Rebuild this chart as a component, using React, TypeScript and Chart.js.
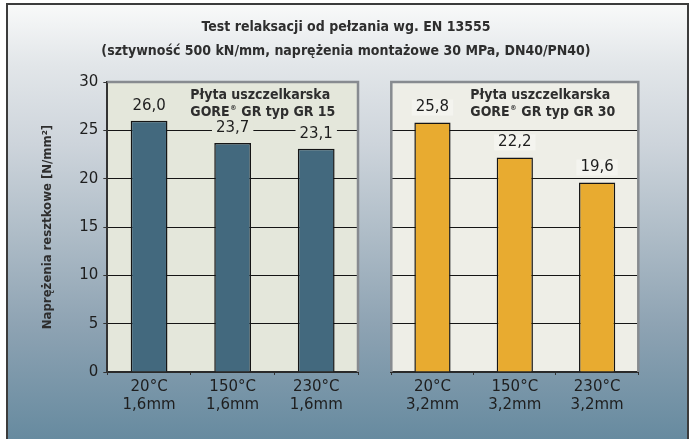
import React, { useEffect, useRef } from 'react';
import { Chart, registerables } from 'chart.js';

Chart.register(...registerables);

const TITLE_LINES = [
  'Test relaksacji od pełzania wg. EN 13555',
  '(sztywność 500 kN/mm, naprężenia montażowe 30 MPa, DN40/PN40)',
];
const Y_TITLE = 'Naprężenia resztkowe [N/mm²]';
const Y_MIN = 0;
const Y_MAX = 30;
const Y_STEP = 5;

const CATEGORIES_A = [['20°C', '1,6mm'], ['150°C', '1,6mm'], ['230°C', '1,6mm']];
const VALUES_A = [26.0, 23.7, 23.1];
const NOTE_A = ['Płyta uszczelkarska', 'GORE® GR typ GR 15'];

const CATEGORIES_B = [['20°C', '3,2mm'], ['150°C', '3,2mm'], ['230°C', '3,2mm']];
const VALUES_B = [25.8, 22.2, 19.6];
const NOTE_B = ['Płyta uszczelkarska', 'GORE® GR typ GR 30'];

const W = 692;
const H = 439;
const COND = "'Liberation Sans Narrow', 'DejaVu Sans Condensed', sans-serif";
const PLAIN = "'DejaVu Sans', sans-serif";

const fmt = (v: number) => v.toFixed(1).replace('.', ',');

const panelPlugin = {
  id: 'panel',
  beforeDraw(chart: any, _a: any, opts: any) {
    const { ctx, chartArea: ca } = chart;
    ctx.save();
    ctx.fillStyle = opts.bg;
    ctx.fillRect(ca.left, ca.top, ca.right - ca.left, ca.bottom - ca.top);
    ctx.restore();
  },
  afterDatasetsDraw(chart: any, _a: any, opts: any) {
    const { ctx, chartArea: ca } = chart;
    const meta = chart.getDatasetMeta(0);
    const data = chart.data.datasets[0].data;
    ctx.save();
    ctx.font = `15px ${PLAIN}`;
    ctx.textAlign = 'center';
    ctx.textBaseline = 'middle';
    meta.data.forEach((el: any, i: number) => {
      const t = fmt(data[i]);
      const w = ctx.measureText(t).width;
      const cy = el.y - 15;
      ctx.fillStyle = opts.labelBg;
      ctx.fillRect(el.x - w / 2 - 4, cy - 8, w + 8, 16);
      ctx.fillStyle = '#1e1e1e';
      ctx.fillText(t, el.x, cy);
    });
    // panel note
    const x0 = ca.left + opts.noteDx;
    ctx.textAlign = 'left';
    ctx.textBaseline = 'alphabetic';
    ctx.fillStyle = '#2e2e2e';
    const f = `bold 14px ${COND}`;
    const fs = `bold 7px ${COND}`;
    opts.note.forEach((line: string, li: number) => {
      const y = ca.top + 17 + li * 16.5;
      const parts = line.split('®');
      let x = x0;
      parts.forEach((p: string, pi: number) => {
        ctx.font = f;
        ctx.fillText(p, x, y);
        x += ctx.measureText(p).width;
        if (pi < parts.length - 1) {
          ctx.font = fs;
          ctx.fillText('®', x + 0.5, y - 6);
          x += ctx.measureText('®').width + 1;
        }
      });
    });
    ctx.restore();
  },
  afterDraw(chart: any, _a: any, opts: any) {
    const { ctx, chartArea: ca } = chart;
    ctx.save();
    ctx.strokeStyle = '#878b90';
    ctx.lineWidth = 2.5;
    ctx.beginPath();
    if (opts.leftBorder) {
      ctx.moveTo(ca.left, ca.bottom);
      ctx.lineTo(ca.left, ca.top);
    } else {
      ctx.moveTo(ca.left, ca.top);
    }
    ctx.lineTo(ca.right, ca.top);
    ctx.lineTo(ca.right, ca.bottom);
    ctx.stroke();
    if (opts.title) {
      ctx.fillStyle = '#2e2e2e';
      ctx.textAlign = 'center';
      ctx.textBaseline = 'middle';
      ctx.font = `bold 14px ${COND}`;
      TITLE_LINES.forEach((t, i) => ctx.fillText(t, chart.width / 2, 27 + i * 24));
    }
    ctx.restore();
  },
};

function makeConfig(
  labels: string[][],
  values: number[],
  color: string,
  note: string[],
  withAxis: boolean,
  padLeft: number,
  padRight: number,
  bg: string,
  labelBg: string,
): any {
  const tickFont = { family: PLAIN, size: 15 };
  return {
    type: 'bar',
    data: {
      labels,
      datasets: [
        {
          data: values,
          backgroundColor: color,
          borderColor: '#151515',
          borderWidth: 1.5,
          barPercentage: 0.44,
          categoryPercentage: 1,
        },
      ],
    },
    plugins: [panelPlugin],
    options: {
      responsive: false,
      animation: false,
      devicePixelRatio: 1,
      layout: { padding: { left: padLeft, right: padRight, top: 82, bottom: 0 } },
      plugins: {
        legend: { display: false },
        tooltip: { enabled: false },
        title: { display: false },
        panel: { bg, labelBg, note, noteDx: withAxis ? 83 : 79, leftBorder: !withAxis, title: withAxis },
      },
      scales: {
        x: {
          offset: true,
          grid: {
            display: true,
            drawOnChartArea: false,
            drawTicks: true,
            tickLength: 3,
            tickColor: '#333',
            offset: true,
          },
          border: { display: true, color: '#2a2a2a', width: 2 },
          ticks: { font: tickFont, color: '#1e1e1e', padding: 3, maxRotation: 0, autoSkip: false },
          afterFit: (s: any) => {
            s.height = 67;
          },
        },
        y: {
          min: Y_MIN,
          max: Y_MAX,
          ticks: {
            stepSize: Y_STEP,
            display: withAxis,
            font: tickFont,
            color: '#1e1e1e',
            padding: 5,
          },
          grid: {
            color: '#151515',
            lineWidth: 1,
            drawTicks: withAxis,
            tickLength: 4,
            tickColor: '#333',
          },
          border: { display: withAxis, color: '#333', width: 2 },
          title: {
            display: withAxis,
            text: Y_TITLE,
            color: '#2e2e2e',
            font: { family: COND, size: 13, weight: 'bold' },
            padding: { top: 10, bottom: 0 },
          },
          afterFit: (s: any) => {
            s.width = withAxis ? 77.3 : 0;
          },
        },
      },
    },
  };
}

export default function App() {
  const refA = useRef<HTMLCanvasElement>(null);
  const refB = useRef<HTMLCanvasElement>(null);

  useEffect(() => {
    const a = new Chart(
      refA.current!,
      makeConfig(CATEGORIES_A, VALUES_A, '#43697e', NOTE_A, true, 30, W - 358, '#e4e7db', '#e4e7db'),
    );
    const b = new Chart(
      refB.current!,
      makeConfig(CATEGORIES_B, VALUES_B, '#e8ab30', NOTE_B, false, 391.3, W - 638.3, '#eeeee7', '#f4f4ef'),
    );
    return () => {
      a.destroy();
      b.destroy();
    };
  }, []);

  const cstyle: React.CSSProperties = { position: 'absolute', left: 0, top: 0, width: W, height: H };

  return (
    <div style={{ position: 'fixed', left: 0, top: 0, width: W, height: H, overflow: 'hidden', background: '#fff' }}>
      <div
        style={{
          position: 'absolute',
          left: 6,
          top: 3,
          width: 679,
          height: 450,
          border: '2px solid #3c3c3c',
          background:
            'linear-gradient(to bottom, #f8f9f9 0px, #e2e6e9 60px, #cdd4db 140px, #aebcc7 230px, #8ea3b3 320px, #668a9f 436px)',
        }}
      />
      <canvas ref={refA} width={W} height={H} style={cstyle} />
      <canvas ref={refB} width={W} height={H} style={cstyle} />
    </div>
  );
}
